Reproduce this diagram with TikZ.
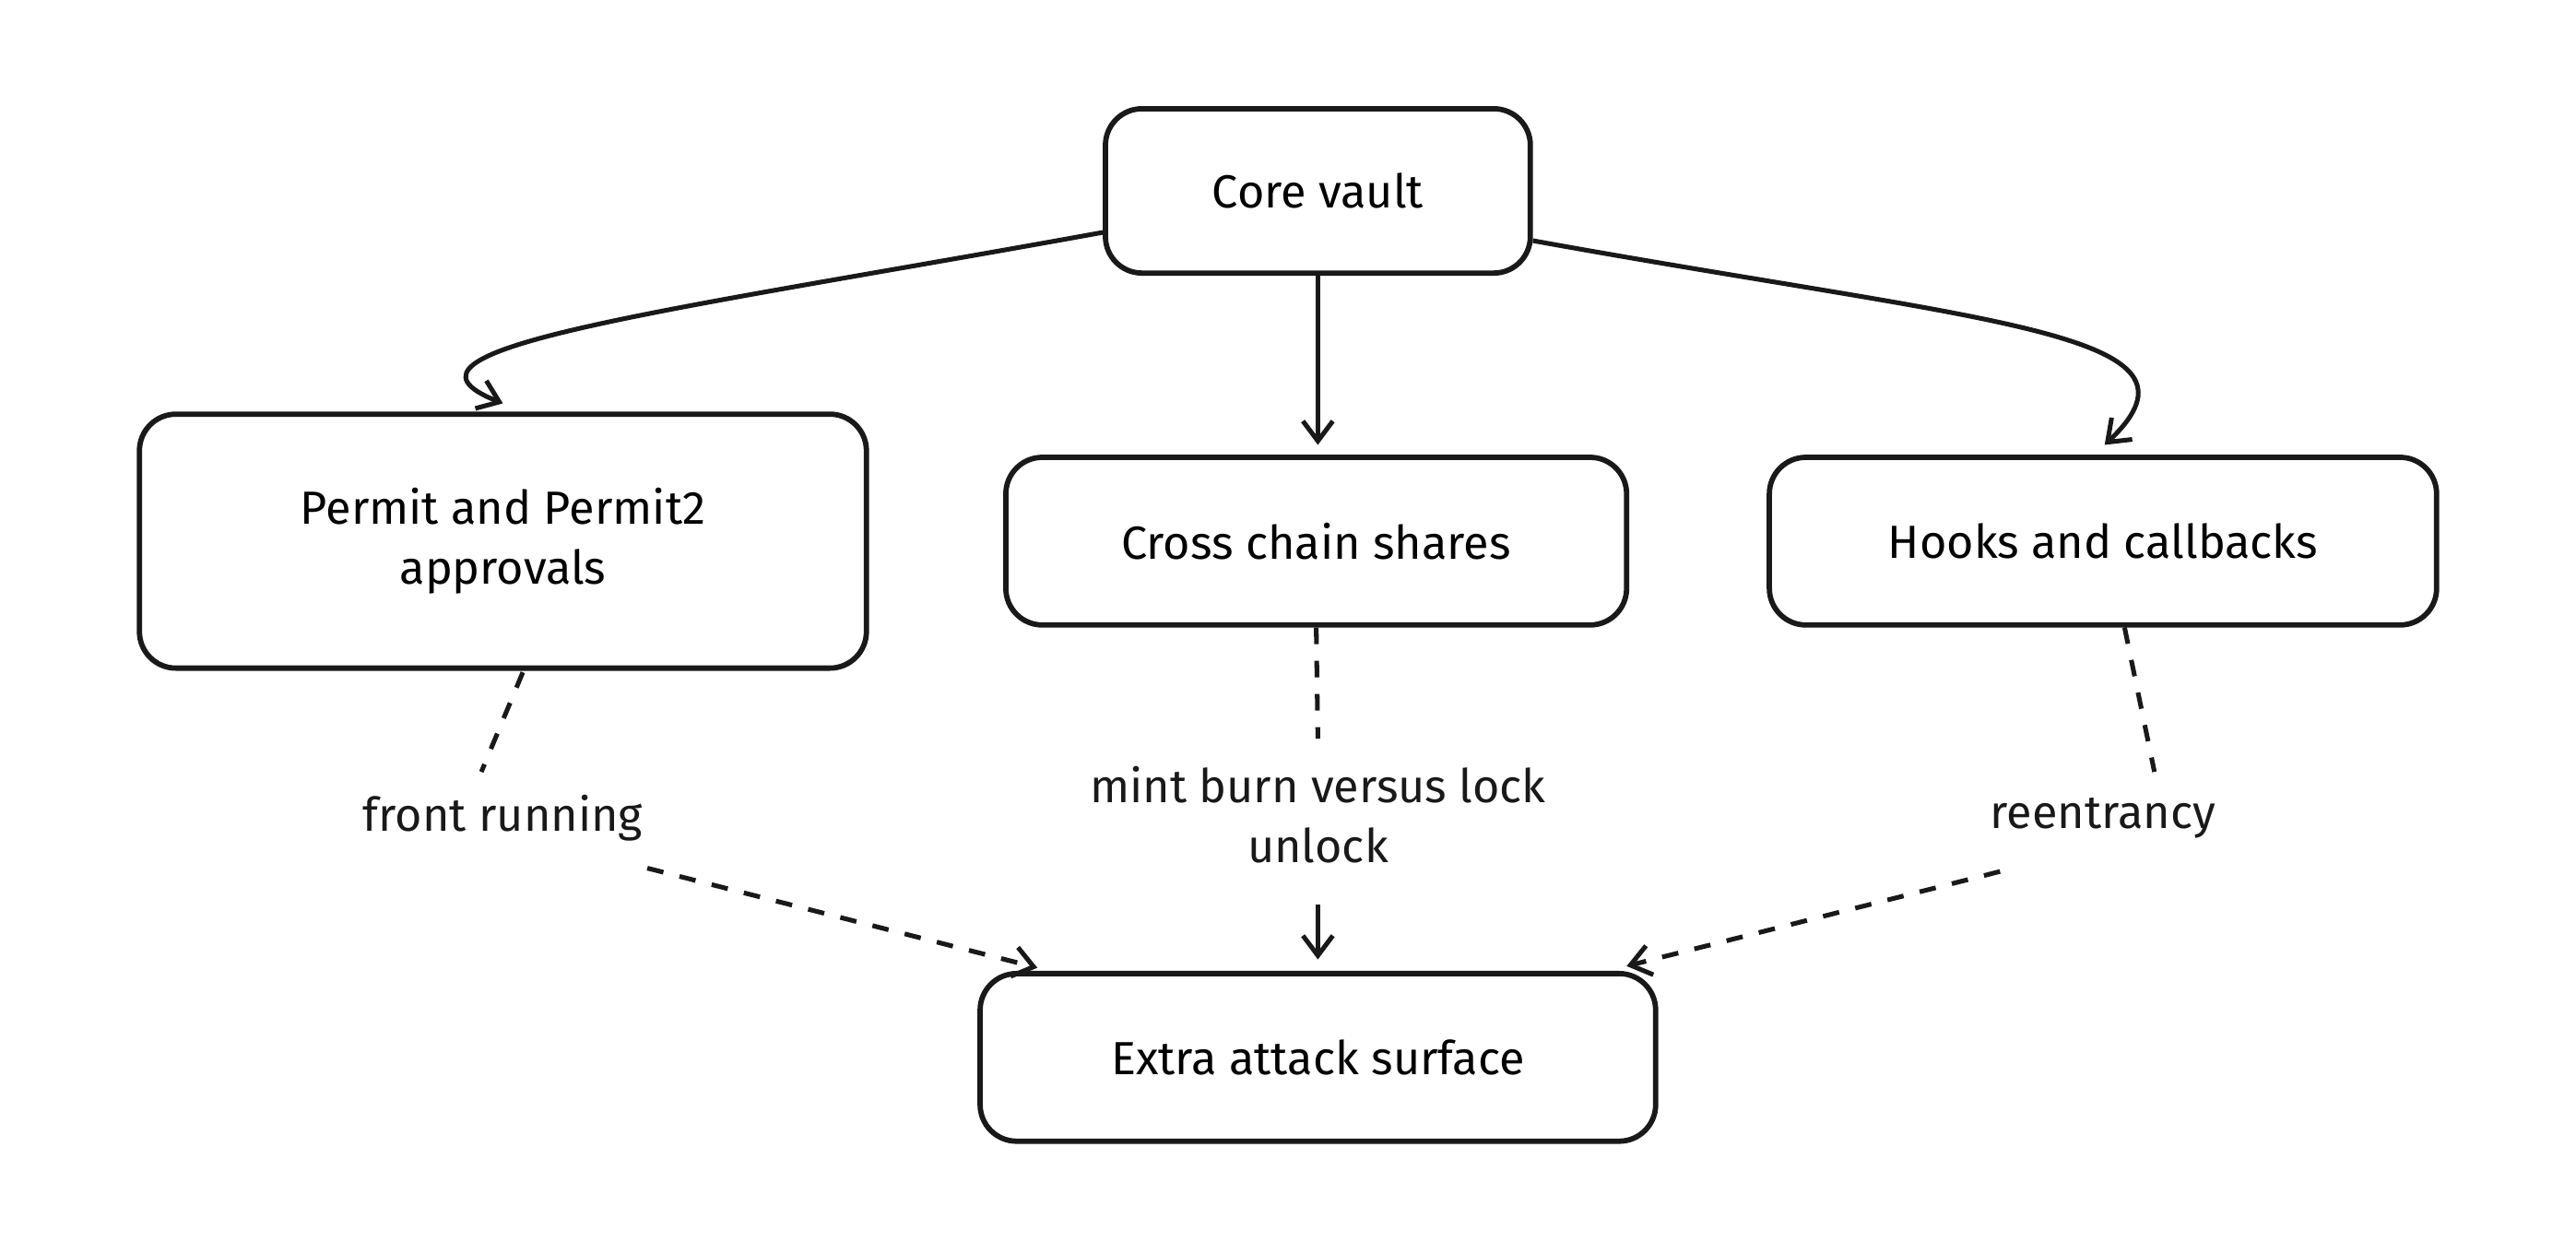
\documentclass[tikz,border=0pt]{standalone}
\usepackage{fontspec}
\setmainfont{Fira Sans}
\usetikzlibrary{arrows.meta}
\begin{document}
\begin{tikzpicture}[x=1pt,y=-1pt,
  box/.style={draw=black!90,line width=3.2pt,rounded corners=22pt,align=center,font=\fontsize{28}{36}\selectfont},
  lab/.style={align=center,font=\fontsize{28}{36}\selectfont,text=black!90},
  arr/.style={line width=2.8pt,draw=black!90,-{Straight Barb[length=12pt,width=18pt,line width=2.8pt]}},
  dsh/.style={line width=2.8pt,draw=black!90,dash pattern=on 10pt off 10pt},
  dar/.style={dsh,-{Straight Barb[length=12pt,width=18pt,line width=2.8pt]}}]
\useasboundingbox (0,0) rectangle (1552,748);
\node[box,minimum width=256pt,minimum height=99pt] (core) at (794,115) {Core vault};
\node[box,minimum width=438pt,minimum height=153pt] (permit) at (303,326) {Permit and Permit2\\approvals};
\node[box,minimum width=374pt,minimum height=101pt] (cross) at (793,326) {Cross chain shares};
\node[box,minimum width=402pt,minimum height=101pt] (hooks) at (1267,326) {Hooks and callbacks};
\node[box,minimum width=407pt,minimum height=101pt] (extra) at (794,637) {Extra attack surface};
\node[lab] (l1) at (303,493) {front running};
\node[lab] (l2) at (794,491) {mint burn versus lock\\unlock};
\node[lab] (l3) at (1267,493) {reentrancy};
\draw[arr] (core.west|-0,140) .. controls (400,188) and (220,210) .. (303,243);
\draw[arr] (core.south) -- (794,268);
\draw[arr] (core.east|-0,145) .. controls (1200,195) and (1340,200) .. (1268,268);
\draw[dsh] (315,405) -- (290,465);
\draw[dar] (390,523) -- (625,583);
\draw[dsh] (cross.south) -- (794,445);
\draw[arr] (794,545) -- (794,578);
\draw[dsh] (1280,378) -- (1298,465);
\draw[dar] (1205,525) -- (980,582);
\end{tikzpicture}
\end{document}
